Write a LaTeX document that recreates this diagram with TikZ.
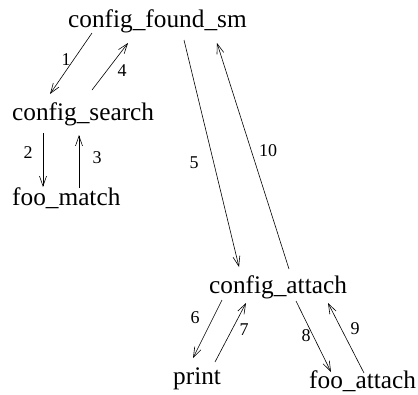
\documentclass[tikz,border=0pt]{standalone}
\usepackage{fontspec}
\setmainfont{Liberation Serif}
\usetikzlibrary{arrows.meta}
\begin{document}
\begin{tikzpicture}[x=1pt,y=-1pt,
  lbl/.style={anchor=base west,inner sep=0pt,font=\fontsize{25.3}{30}\selectfont},
  num/.style={inner sep=0pt,font=\fontsize{18}{21}\selectfont},
  arr/.style={-{Straight Barb[length=10pt,width=7pt]},line width=0.6pt}]
\useasboundingbox (0,0) rectangle (418,394);
\node[lbl] (cfs) at (68,27) {config\_found\_sm};
\node[lbl] (cs) at (12,120) {config\_search};
\node[lbl] (fm) at (12,205) {foo\_match};
\node[lbl] (ca) at (209,293) {config\_attach};
\node[lbl] (pr) at (173,384) {print};
\node[lbl] (fa) at (309,388) {foo\_attach};
% arrow end points
\coordinate (a1s) at (92,33);  \coordinate (a1e) at (50,94);
\coordinate (a4s) at (92,90);  \coordinate (a4e) at (128,43);
\coordinate (a2s) at (43,133); \coordinate (a2e) at (43,187);
\coordinate (a3s) at (79,188); \coordinate (a3e) at (79,135);
\coordinate (a5s) at (184,40); \coordinate (a5e) at (239,267);
\coordinate (a10s) at (289,269); \coordinate (a10e) at (217,43);
\coordinate (a6s) at (222,300); \coordinate (a6e) at (193,358);
\coordinate (a7s) at (215,362); \coordinate (a7e) at (246,303);
\coordinate (a8s) at (296,301); \coordinate (a8e) at (331,372);
\coordinate (a9s) at (364,373); \coordinate (a9e) at (328,303);
\draw[arr] (a1s) -- (a1e);
\draw[arr] (a4s) -- (a4e);
\draw[arr] (a2s) -- (a2e);
\draw[arr] (a3s) -- (a3e);
\draw[arr] (a5s) -- (a5e);
\draw[arr] (a10s) -- (a10e);
\draw[arr] (a6s) -- (a6e);
\draw[arr] (a7s) -- (a7e);
\draw[arr] (a8s) -- (a8e);
\draw[arr] (a9s) -- (a9e);
% labels
\node[num] (n1) at (66,60) {1};
\node[num] (n4) at (122,71) {4};
\node[num] (n2) at (28,153) {2};
\node[num] (n3) at (97,158) {3};
\node[num] (n5) at (194,163) {5};
\node[num] (n10) at (268,151) {10};
\node[num] (n6) at (195,318) {6};
\node[num] (n7) at (244,330) {7};
\node[num] (n8) at (306,336) {8};
\node[num] (n9) at (355,329) {9};
\end{tikzpicture}
\end{document}
